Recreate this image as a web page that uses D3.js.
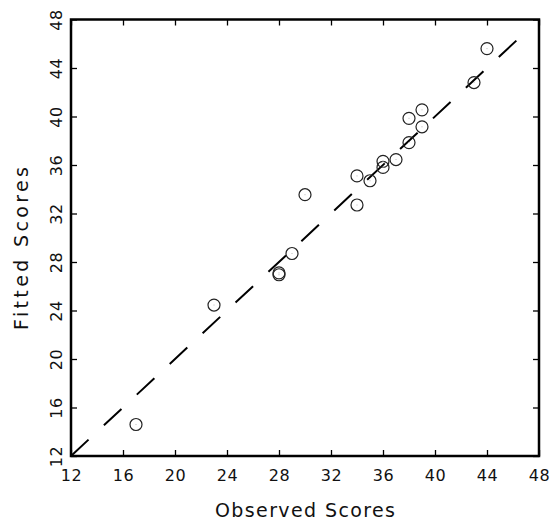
<!DOCTYPE html>
<html><head><meta charset="utf-8">
<script src="https://cdn.jsdelivr.net/npm/d3@7"></script>
<style>body{margin:0;background:#fff}text{font-family:"DejaVu Sans",sans-serif;fill:#111}</style>
</head><body><svg id="c" width="552" height="526"></svg>
<script>
const observed = [17, 23, 28, 28, 29, 30, 34, 34, 35, 36, 36, 37, 38, 38, 39, 39, 43, 44];
const fitted   = [14.6, 24.45, 27.1, 26.95, 28.7, 33.55, 32.7, 35.1, 34.7, 36.3, 35.8, 36.45, 37.85, 39.85, 39.15, 40.55, 42.8, 45.6];
const ticks = [12, 16, 20, 24, 28, 32, 36, 40, 44, 48];
const refLine = [12, 46.5];
const xTitle = "Observed Scores", yTitle = "Fitted Scores";

const svg = d3.select("#c");
const L = 71, R = 539, T = 19.5, B = 456;
const x = d3.scaleLinear().domain([12, 48]).range([L, R]);
const y = d3.scaleLinear().domain([12, 48]).range([B, T]);

// axes with inward ticks
const gB = svg.append("g").attr("transform", `translate(0,${B})`)
  .call(d3.axisBottom(x).tickValues(ticks).tickSize(-6).tickPadding(14).tickFormat(d3.format("d")));
const gL = svg.append("g").attr("transform", `translate(${L},0)`)
  .call(d3.axisLeft(y).tickValues(ticks).tickSize(-6).tickPadding(8).tickFormat(d3.format("d")));
const gT = svg.append("g").attr("transform", `translate(0,${T})`)
  .call(d3.axisTop(x).tickValues(ticks).tickSize(-6).tickFormat(""));
const gR = svg.append("g").attr("transform", `translate(${R},0)`)
  .call(d3.axisRight(y).tickValues(ticks).tickSize(-6).tickFormat(""));
[gB, gL, gT, gR].forEach(g => {
  g.select(".domain").remove();
  g.selectAll(".tick line").attr("stroke", "#000").attr("stroke-width", 1.3);
  g.selectAll(".tick text").attr("font-size", 16).attr("fill", "#111")
    .attr("font-family", '"DejaVu Sans",sans-serif').attr("letter-spacing", 0.5);
});
// rotate y tick labels
gL.selectAll(".tick text")
  .attr("transform", "rotate(-90)")
  .attr("x", 0).attr("y", -9)
  .attr("dy", 0)
  .attr("text-anchor", "middle");

// frame
svg.append("rect").attr("x", L).attr("y", T).attr("width", R - L).attr("height", B - T)
  .attr("fill", "none").attr("stroke", "#000").attr("stroke-width", 2.5);

// reference line y = x
svg.append("line")
  .attr("x1", x(refLine[0])).attr("y1", y(refLine[0]))
  .attr("x2", x(refLine[1])).attr("y2", y(refLine[1]))
  .attr("stroke", "#000").attr("stroke-width", 2)
  .attr("stroke-dasharray", "24,21");

// points
const pts = observed.map((o, i) => ({o, f: fitted[i]}));
svg.append("g").selectAll("circle").data(pts).join("circle")
  .attr("cx", d => x(d.o)).attr("cy", d => y(d.f)).attr("r", 6)
  .attr("fill", "none").attr("stroke", "#222").attr("stroke-width", 1.2);
svg.append("g").selectAll("rect").data(pts).join("rect")
  .attr("x", d => x(d.o) - 0.5).attr("y", d => y(d.f) - 0.5).attr("width", 1).attr("height", 1)
  .attr("fill", "#bbb");

// titles
svg.append("text").attr("x", (L + R) / 2).attr("y", 517).attr("text-anchor", "middle")
  .attr("font-size", 19).attr("textLength", 180).attr("lengthAdjust", "spacing").text(xTitle);
svg.append("text").attr("transform", `translate(28,248.5) rotate(-90)`).attr("text-anchor", "middle")
  .attr("font-size", 19).attr("textLength", 163).attr("lengthAdjust", "spacing").text(yTitle);
</script></body></html>
